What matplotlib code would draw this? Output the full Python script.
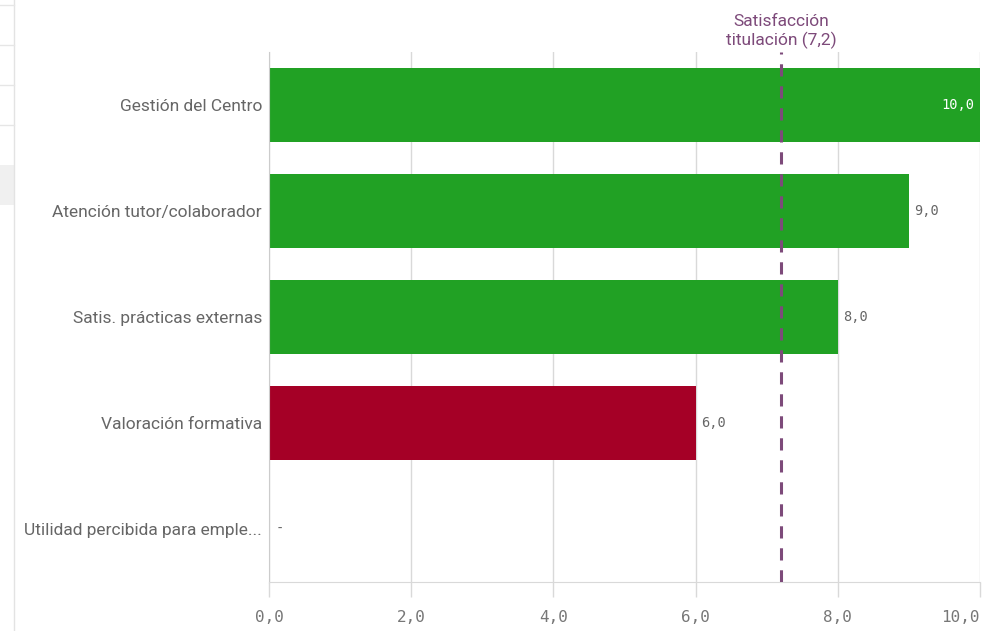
import matplotlib.pyplot as plt
from matplotlib.lines import Line2D
from matplotlib.patches import Rectangle

categories = ["Gestión del Centro", "Atención tutor/colaborador",
              "Satis. prácticas externas", "Valoración formativa",
              "Utilidad percibida para emple..."]
values = [10.0, 9.0, 8.0, 6.0, None]
colors = ["#21a124", "#21a124", "#21a124", "#a50026", None]
ref_value = 7.2
ref_label = "Satisfacción\ntitulación (7,2)"
xticks = [0, 2, 4, 6, 8, 10]

grey = "#666666"
purple = "#7d4a7a"
mono = "DejaVu Sans Mono"

fig = plt.figure(figsize=(9.98, 6.31), dpi=100)
ax = fig.add_axes([269 / 998, 49 / 631, 711 / 998, 530 / 631])

for i, (v, c) in enumerate(zip(values, colors)):
    if v is None:
        ax.text(0.1, i, "-", va="center", ha="left", color=grey,
                fontsize=10, family=mono)
        continue
    ax.barh(i, v, height=0.69, color=c, zorder=2)
    lbl = f"{v:.1f}".replace(".", ",")
    if v >= 9.9:
        ax.text(v - 0.08, i, lbl, va="center", ha="right", color="white",
                fontsize=9.8, family=mono, zorder=3)
    else:
        ax.text(v + 0.08, i, lbl, va="center", ha="left", color=grey,
                fontsize=9.8, family=mono, zorder=3)

ax.axvline(ref_value, color=purple, lw=2.2, ls=(0, (4, 3.2)), zorder=4)
ax.text(ref_value, 1.005, ref_label, transform=ax.get_xaxis_transform(),
        ha="center", va="bottom", color=purple, fontsize=12.5,
        family="Roboto", linespacing=1.2)

ax.set_xlim(0, 10)
ax.set_ylim(4.5, -0.5)
ax.set_yticks(range(len(categories)))
ax.set_yticklabels(categories, family="Roboto", fontsize=12.5, color=grey)
ax.set_xticks(xticks)
ax.set_xticklabels([f"{t:.1f}".replace(".", ",") for t in xticks],
                   family=mono, fontsize=11.5, color="#777777")
ax.get_xticklabels()[-1].set_ha("right")
ax.tick_params(axis="y", length=0, pad=5)
ax.tick_params(axis="x", length=11, width=1, color="#d9d9d9", pad=9)
ax.grid(axis="x", color="#d9d9d9", lw=1, zorder=0)
for s in ["top", "right"]:
    ax.spines[s].set_visible(False)
ax.spines["left"].set_color("#cccccc")
ax.spines["bottom"].set_color("#d9d9d9")

# side panel remnants on the left edge
fig.add_artist(Line2D([14 / 998, 14 / 998], [0, 1], color="#e3e3e3", lw=1))
for y in [5, 45, 85, 125]:
    fig.add_artist(Line2D([0, 14 / 998], [1 - y / 631] * 2, color="#e6e6e6", lw=1))
fig.add_artist(Rectangle((0, 1 - 205 / 631), 14 / 998, 40 / 631,
                         color="#f0f0f0", lw=0))

fig.savefig("out.png", dpi=100)
